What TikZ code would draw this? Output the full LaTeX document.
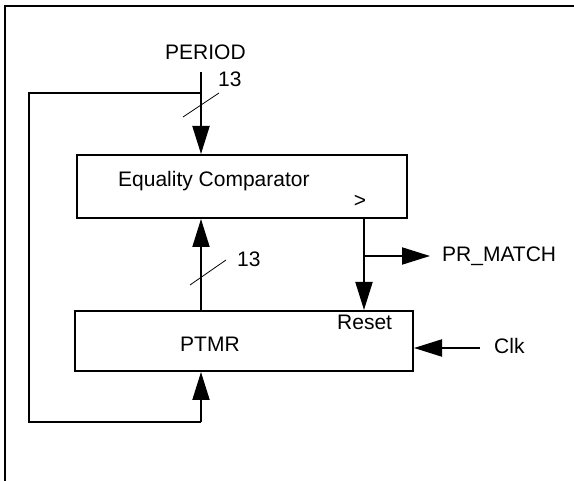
\documentclass[tikz,border=0pt]{standalone}
\usepackage{fontspec}
\setmainfont{Liberation Sans}
\usetikzlibrary{arrows.meta}
\tikzset{
  blk/.style={draw,line width=2pt,inner sep=0pt},
  sig/.style={line width=2pt},
  bus/.style={line width=0.8pt},
  txt/.style={anchor=base west,inner sep=0pt},
}
\begin{document}
\begin{tikzpicture}[x=1pt,y=-1pt,line join=miter,>={Triangle[length=28pt,width=17pt]},font=\fontsize{21}{25}\selectfont]
\useasboundingbox (0,0) rectangle (574,481);
% frame
\draw[line width=2.3pt] (5,481) -- (5,6) -- (574,6);
% blocks
\node[blk,minimum width=330pt,minimum height=63pt] (cmp) at (242,186.5) {};
\node[blk,minimum width=338pt,minimum height=60pt] (ptmr) at (244,341) {};
\path
(201,72) coordinate (pin)
(201,93) coordinate (fbtop)
(29,93) coordinate (fbtl)
(29,422) coordinate (fbbl)
(201,422) coordinate (fbbr)
(364,256) coordinate (br)
(430,256) coordinate (mout)
(480,348) coordinate (clkin)
;
% texts
\node[txt] (period) at (165,60) {PERIOD};
\node[txt] (w1) at (218,87) {13};
\node[txt] (eqc) at (118,187) {Equality Comparator};
\node (gt) at (360,201) {>};
\node[txt] (w2) at (237,267) {13};
\node[txt] (match) at (442,262) {PR\_MATCH};
\node[txt] (rst) at (337,330) {Reset};
\node[txt] (tmr) at (180,352) {PTMR};
\node[txt] (clk) at (494,354) {Clk};
% signals
\draw[sig,->] (pin) -- (pin |- cmp.north);
\draw[sig] (fbtop) -- (fbtl) -- (fbbl) -- (fbbr);
\draw[sig,->] (fbbr) -- (fbbr |- ptmr.south);
\draw[sig,->] (ptmr.north -| pin) -- (cmp.south -| pin);
\draw[sig,->] (cmp.south -| br) -- (ptmr.north -| br);
\draw[sig,->] (br) -- (mout);
\draw[sig,->] (clkin) -- (clkin -| ptmr.east);
% bus width marks
\draw[bus] (183,117) -- (219,93);
\draw[bus] (190,285) -- (226,260);
\end{tikzpicture}
\end{document}
